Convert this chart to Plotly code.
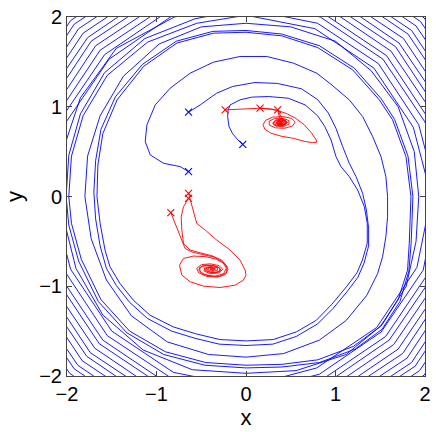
import plotly.graph_objects as go

# blue trajectories (spiralling outward), inner part
blue_1_inner = [
    (-0.642, 0.277), (-0.735, 0.333), (-0.921, 0.37), (-1.07, 0.463), (-1.126, 0.612),
    (-1.107, 0.798), (-1.014, 1.021), (-0.847, 1.207), (-0.624, 1.374), (-0.363, 1.497),
    (-0.066, 1.56), (0.232, 1.56), (0.53, 1.486), (0.79, 1.374), (0.95, 1.25),
    (1.154, 1.077), (1.303, 0.891), (1.415, 0.668), (1.508, 0.445), (1.563, 0.222),
    (1.582, 0.0), (1.582, -0.225), (1.563, -0.448), (1.526, -0.671), (1.47, -0.86),
    (1.35, -1.10), (1.12, -1.38), (0.82, -1.60), (0.42, -1.75), (0.0, -1.79),
    (-0.42, -1.76), (-0.88, -1.62), (-1.28, -1.33), (-1.56, -0.93), (-1.73, -0.47),
    (-1.80, 0.0), (-1.77, 0.45), (-1.63, 0.90), (-1.37, 1.34), (-0.97, 1.70),
    (-0.50, 1.89), (0.0, 1.93), (0.50, 1.89), (1.0, 1.73), (1.40, 1.40),
    (1.70, 1.0), (1.88, 0.5), (1.93, 0.0), (1.90, -0.50), (1.79, -1.0),
    (1.52, -1.43), (1.12, -1.76), (0.56, -1.94), (0.0, -1.97), (-0.60, -1.93),
    (-1.15, -1.71), (-1.60, -1.32), (-1.90, -0.80), (-2.05, -0.20), (-2.05, 0.5),
    (-1.85, 1.1), (-1.45, 1.65), (-0.80, 2.0),
]
blue_2_inner = [
    (-0.642, 0.939), (-0.512, 1.021), (-0.33, 1.15), (-0.15, 1.226), (0.10, 1.27),
    (0.35, 1.26), (0.62, 1.20), (0.80, 1.08), (0.92, 0.93), (1.005, 0.76),
    (1.08, 0.556), (1.154, 0.37), (1.229, 0.222), (1.303, 0.036), (1.345, -0.15),
    (1.37, -0.35), (1.37, -0.55), (1.32, -0.74), (1.25, -0.90), (1.13, -1.06),
    (0.97, -1.25), (0.80, -1.42), (0.56, -1.56), (0.30, -1.645), (0.0, -1.66),
    (-0.30, -1.645), (-0.57, -1.58), (-0.83, -1.50), (-1.10, -1.36), (-1.30, -1.18),
    (-1.45, -0.99), (-1.56, -0.80), (-1.63, -0.55), (-1.68, -0.25), (-1.70, 0.05),
    (-1.68, 0.40), (-1.62, 0.75), (-1.46, 1.11), (-1.16, 1.47), (-0.78, 1.73),
    (-0.37, 1.84), (0.0, 1.85), (0.4, 1.81), (0.82, 1.68), (1.21, 1.43),
    (1.51, 1.09), (1.66, 0.86), (1.81, 0.45), (1.865, 0.0), (1.845, -0.52),
    (1.82, -0.83), (1.72, -1.17), (1.52, -1.48), (1.22, -1.70), (0.82, -1.85),
    (0.4, -1.90), (0.0, -1.91), (-0.46, -1.88), (-0.92, -1.76), (-1.33, -1.52),
    (-1.65, -1.17), (-1.87, -0.72), (-1.98, -0.32), (-2.01, 0.0), (-1.98, 0.46),
    (-1.85, 0.92), (-1.58, 1.38), (-1.13, 1.76), (-0.57, 1.98),
]
blue_3_inner = [
    (-0.036, 0.582), (-0.09, 0.63), (-0.15, 0.70), (-0.19, 0.78), (-0.205, 0.89),
    (-0.20, 0.96), (-0.178, 1.02), (-0.066, 1.077), (0.064, 1.107), (0.25, 1.114),
    (0.473, 1.095), (0.66, 1.021), (0.80, 0.90), (0.88, 0.78), (0.95, 0.631),
    (1.005, 0.445), (1.061, 0.333), (1.154, 0.222), (1.247, 0.073), (1.322, -0.113),
    (1.355, -0.30), (1.355, -0.52), (1.30, -0.71), (1.24, -0.85), (1.122, -1.006),
    (0.96, -1.2), (0.787, -1.378), (0.564, -1.508), (0.304, -1.594), (0.006, -1.609),
    (-0.292, -1.594), (-0.56, -1.53), (-0.812, -1.453), (-1.073, -1.322), (-1.259, -1.155),
    (-1.408, -0.969), (-1.52, -0.783), (-1.575, -0.597), (-1.63, -0.3), (-1.665, 0.0),
    (-1.655, 0.35), (-1.60, 0.70), (-1.44, 1.077), (-1.144, 1.449), (-0.772, 1.71),
    (-0.363, 1.82), (0.0, 1.83), (0.4, 1.79), (0.8, 1.66), (1.191, 1.412),
    (1.489, 1.077), (1.638, 0.854), (1.787, 0.445), (1.843, 0.0), (1.824, -0.523),
    (1.805, -0.82), (1.70, -1.15), (1.5, -1.45), (1.2, -1.67), (0.8, -1.82),
    (0.4, -1.87), (0.0, -1.88), (-0.45, -1.85), (-0.9, -1.73), (-1.3, -1.5),
    (-1.62, -1.15), (-1.84, -0.7), (-1.95, -0.3), (-1.98, 0.0), (-1.95, 0.45),
    (-1.82, 0.9), (-1.55, 1.35), (-1.1, 1.72), (-0.55, 1.93),
]

# outer turns, only their corner parts fall inside the box
blue_1_outer = [
    (0, 2.16), (0.83, 2.00), (1.53, 1.53), (2.00, 0.83),
    (2.21, 0), (2.04, -0.85), (1.56, -1.56), (0.85, -2.04),
    (0, -2.26), (-0.87, -2.09), (-1.60, -1.60), (-2.09, -0.87),
    (-2.31, 0), (-2.13, 0.88), (-1.63, 1.63), (-0.88, 2.13),
    (0, 2.36), (0.90, 2.18), (1.67, 1.67), (2.18, 0.90),
    (2.41, 0), (2.23, -0.92), (1.70, -1.70), (0.92, -2.23),
    (0, -2.46), (-0.94, -2.27), (-1.74, -1.74), (-2.27, -0.94),
    (-2.51, 0), (-2.32, 0.96), (-1.77, 1.77), (-0.96, 2.32),
    (0, 2.56), (0.98, 2.37), (1.81, 1.81), (2.37, 0.98),
    (2.61, 0), (2.41, -1.00), (1.85, -1.85), (1.00, -2.41),
    (0, -2.66), (-1.02, -2.46), (-1.88, -1.88), (-2.46, -1.02),
    (-2.71, 0), (-2.50, 1.04), (-1.92, 1.92), (-1.04, 2.50),
    (0, 2.76), (1.06, 2.55), (1.95, 1.95), (2.55, 1.06),
    (2.81, 0), (2.60, -1.08), (1.99, -1.99), (1.08, -2.60),
    (0, -2.86), (-1.10, -2.64), (-2.02, -2.02), (-2.64, -1.10),
]
blue_2_outer = [
    (0, 2.09), (0.80, 1.93), (1.48, 1.48), (1.93, 0.80),
    (2.14, 0), (1.98, -0.82), (1.51, -1.51), (0.82, -1.98),
    (0, -2.19), (-0.84, -2.02), (-1.55, -1.55), (-2.02, -0.84),
    (-2.24, 0), (-2.07, 0.86), (-1.58, 1.58), (-0.86, 2.07),
    (0, 2.29), (0.88, 2.12), (1.62, 1.62), (2.12, 0.88),
    (2.34, 0), (2.16, -0.90), (1.65, -1.65), (0.90, -2.16),
    (0, -2.39), (-0.92, -2.21), (-1.69, -1.69), (-2.21, -0.92),
    (-2.44, 0), (-2.26, 0.93), (-1.73, 1.73), (-0.93, 2.26),
    (0, 2.49), (0.95, 2.30), (1.76, 1.76), (2.30, 0.95),
    (2.54, 0), (2.35, -0.97), (1.80, -1.80), (0.97, -2.35),
    (0, -2.59), (-0.99, -2.39), (-1.83, -1.83), (-2.39, -0.99),
    (-2.64, 0), (-2.44, 1.01), (-1.87, 1.87), (-1.01, 2.44),
    (0, 2.69), (1.03, 2.49), (1.90, 1.90), (2.49, 1.03),
    (2.74, 0), (2.53, -1.05), (1.94, -1.94), (1.05, -2.53),
    (0, -2.79), (-1.07, -2.58), (-1.97, -1.97), (-2.58, -1.07),
    (-2.84, 0), (-2.62, 1.09), (-2.01, 2.01), (-1.09, 2.62),
]
blue_3_outer = [
    (0, 2.02), (0.77, 1.87), (1.43, 1.43), (1.87, 0.77),
    (2.07, 0), (1.91, -0.79), (1.46, -1.46), (0.79, -1.91),
    (0, -2.12), (-0.81, -1.96), (-1.50, -1.50), (-1.96, -0.81),
    (-2.17, 0), (-2.01, 0.83), (-1.53, 1.53), (-0.83, 2.01),
    (0, 2.22), (0.85, 2.05), (1.57, 1.57), (2.05, 0.85),
    (2.27, 0), (2.10, -0.87), (1.60, -1.60), (0.87, -2.10),
    (0, -2.32), (-0.89, -2.14), (-1.64, -1.64), (-2.14, -0.89),
    (-2.37, 0), (-2.19, 0.91), (-1.68, 1.68), (-0.91, 2.19),
    (0, 2.42), (0.93, 2.24), (1.71, 1.71), (2.24, 0.93),
    (2.47, 0), (2.28, -0.95), (1.75, -1.75), (0.95, -2.28),
    (0, -2.52), (-0.97, -2.33), (-1.78, -1.78), (-2.33, -0.97),
    (-2.57, 0), (-2.38, 0.98), (-1.82, 1.82), (-0.98, 2.38),
    (0, 2.62), (1.00, 2.42), (1.85, 1.85), (2.42, 1.00),
    (2.67, 0), (2.47, -1.02), (1.89, -1.89), (1.02, -2.47),
    (0, -2.72), (-1.04, -2.51), (-1.92, -1.92), (-2.51, -1.04),
    (-2.77, 0), (-2.56, 1.06), (-1.96, 1.96), (-1.06, 2.56),
    (0, 2.82), (1.08, 2.61), (1.99, 1.99), (2.61, 1.08), (2.87, 0),
]

# red trajectories (spiralling into the two foci)
red_top_a = [
    (0.354, 0.965), (0.365, 0.92), (0.375, 0.875), (0.41, 0.86), (0.445, 0.84),
    (0.45, 0.815), (0.42, 0.795), (0.37, 0.79), (0.33, 0.80), (0.32, 0.825),
    (0.35, 0.845), (0.40, 0.85), (0.435, 0.835), (0.43, 0.81), (0.39, 0.80),
    (0.35, 0.805), (0.34, 0.825), (0.37, 0.84), (0.41, 0.835), (0.415, 0.815),
    (0.385, 0.807), (0.36, 0.815), (0.37, 0.83), (0.395, 0.828), (0.39, 0.815),
    (0.375, 0.818), (0.38, 0.824),
]
red_top_b = [
    (0.157, 0.984), (0.26, 0.975), (0.354, 0.958), (0.45, 0.925), (0.55, 0.875),
    (0.65, 0.80), (0.73, 0.71), (0.785, 0.63), (0.79, 0.605), (0.74, 0.60),
    (0.65, 0.615), (0.52, 0.65), (0.40, 0.67), (0.28, 0.705), (0.21, 0.75),
    (0.19, 0.80), (0.22, 0.85), (0.30, 0.885), (0.42, 0.89), (0.51, 0.87),
    (0.55, 0.83), (0.52, 0.785), (0.43, 0.76), (0.33, 0.765), (0.26, 0.795),
    (0.26, 0.84), (0.32, 0.87), (0.42, 0.87), (0.48, 0.845), (0.48, 0.805),
    (0.42, 0.78), (0.34, 0.785), (0.30, 0.815), (0.33, 0.85), (0.40, 0.855),
    (0.45, 0.83), (0.43, 0.80), (0.37, 0.795), (0.335, 0.815), (0.36, 0.84),
    (0.41, 0.84), (0.42, 0.82), (0.39, 0.805), (0.36, 0.815), (0.38, 0.83),
    (0.395, 0.82),
]
red_top_c = [
    (-0.233, 0.965), (-0.05, 0.975), (0.157, 0.984), (0.30, 0.972), (0.36, 0.955),
    (0.38, 0.91), (0.40, 0.87), (0.44, 0.85), (0.465, 0.825), (0.44, 0.80),
    (0.38, 0.785), (0.32, 0.79), (0.30, 0.82), (0.33, 0.85), (0.39, 0.86),
    (0.44, 0.845), (0.45, 0.82), (0.41, 0.80), (0.36, 0.80), (0.345, 0.82),
    (0.37, 0.835), (0.40, 0.83), (0.40, 0.815), (0.38, 0.812),
]
red_low_a = [
    (-0.642, 0.035), (-0.605, -0.113), (-0.55, -0.30), (-0.456, -0.374), (-0.326, -0.486),
    (-0.177, -0.597), (-0.066, -0.709), (-0.01, -0.82), (0.0, -0.876), (-0.029, -0.932),
    (-0.122, -0.988), (-0.289, -1.014), (-0.475, -0.999), (-0.624, -0.95), (-0.717, -0.876),
    (-0.743, -0.765), (-0.698, -0.69), (-0.587, -0.664), (-0.45, -0.67), (-0.33, -0.70),
    (-0.24, -0.75), (-0.20, -0.81), (-0.23, -0.87), (-0.32, -0.90), (-0.44, -0.89),
    (-0.53, -0.85), (-0.55, -0.80), (-0.50, -0.76), (-0.40, -0.75), (-0.30, -0.77),
    (-0.26, -0.81), (-0.30, -0.85), (-0.40, -0.86), (-0.47, -0.83), (-0.46, -0.79),
    (-0.39, -0.78), (-0.32, -0.795), (-0.32, -0.825), (-0.38, -0.835), (-0.43, -0.815),
    (-0.41, -0.795), (-0.36, -0.80), (-0.37, -0.815), (-0.39, -0.805),
]
red_low_b = [
    (-0.642, -0.02), (-0.698, -0.113), (-0.724, -0.225), (-0.717, -0.374), (-0.698, -0.523),
    (-0.624, -0.597), (-0.50, -0.63), (-0.38, -0.66), (-0.27, -0.71), (-0.21, -0.78),
    (-0.22, -0.85), (-0.30, -0.89), (-0.42, -0.885), (-0.51, -0.845), (-0.52, -0.79),
    (-0.45, -0.765), (-0.36, -0.77), (-0.29, -0.80), (-0.30, -0.84), (-0.38, -0.85),
    (-0.45, -0.825), (-0.44, -0.795), (-0.38, -0.79), (-0.34, -0.81), (-0.37, -0.825),
    (-0.40, -0.81), (-0.385, -0.80),
]
red_low_c = [
    (-0.84, -0.18), (-0.80, -0.28), (-0.754, -0.374), (-0.717, -0.486), (-0.68, -0.58),
    (-0.60, -0.62), (-0.48, -0.645), (-0.36, -0.675), (-0.26, -0.73), (-0.22, -0.80),
    (-0.25, -0.86), (-0.35, -0.89), (-0.47, -0.87), (-0.53, -0.82), (-0.49, -0.775),
    (-0.40, -0.765), (-0.31, -0.785), (-0.28, -0.82), (-0.34, -0.85), (-0.43, -0.84),
    (-0.46, -0.81), (-0.41, -0.79), (-0.35, -0.80), (-0.36, -0.82), (-0.40, -0.815),
    (-0.39, -0.80),
]

ticks = [-2, -1, 0, 1, 2]
tick_text = ["\u22122", "\u22121", "0", "1", "2"]

BLUE = "#0000ff"
RED = "#ff0000"

blue_paths = [blue_1_inner + blue_1_outer, blue_2_inner + blue_2_outer, blue_3_inner + blue_3_outer]
red_paths = [red_top_a, red_top_b, red_top_c, red_low_a, red_low_b, red_low_c]

fig = go.Figure()


def add_path(pts, color):
    fig.add_trace(go.Scatter(x=[p[0] for p in pts], y=[p[1] for p in pts], mode="lines",
                             line=dict(color=color, width=0.9), hoverinfo="skip", showlegend=False))


def add_starts(paths, color):
    fig.add_trace(go.Scatter(x=[p[0][0] for p in paths], y=[p[0][1] for p in paths], mode="markers",
                             marker=dict(symbol="x-thin", size=7, color=color,
                                         line=dict(color=color, width=1.1)),
                             hoverinfo="skip", showlegend=False))


for pts in blue_paths:
    add_path(pts, BLUE)
add_starts(blue_paths, BLUE)
for pts in red_paths:
    add_path(pts, RED)
add_starts(red_paths, RED)

axis_style = dict(range=[-2, 2], tickvals=ticks, ticktext=tick_text, ticks="inside", ticklen=5,
                  tickcolor="#444", showline=True, linecolor="#444", linewidth=1, mirror="ticks",
                  showgrid=False, zeroline=False, automargin=False,
                  tickfont=dict(size=20, color="black"))

fig.update_layout(
    width=436, height=432,
    margin=dict(l=67, r=11, t=17, b=56),
    paper_bgcolor="white", plot_bgcolor="white",
    font=dict(family="Liberation Sans, Arial, sans-serif", color="black"),
    xaxis=dict(axis_style, title=dict(text="x", font=dict(size=22), standoff=2)),
    yaxis=dict(axis_style, title=dict(text="y", font=dict(size=22), standoff=10)),
)

# the page's default body margin would shift the figure by 8px
fig.write_html("out.html", config={"displayModeBar": False},
               post_script="document.body.style.margin='0';")
